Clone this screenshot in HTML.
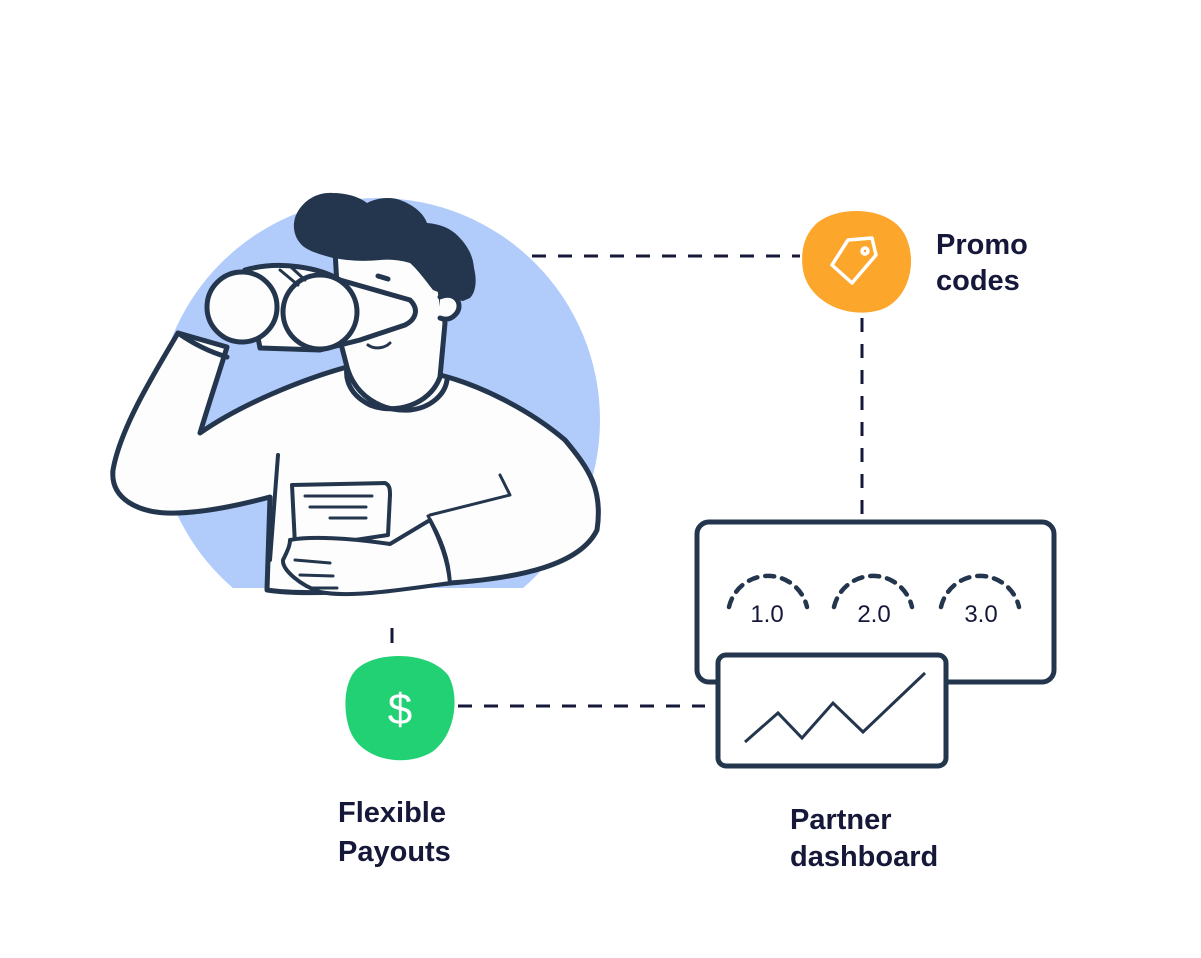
<!DOCTYPE html>
<html><head><meta charset="utf-8"><style>
html,body{margin:0;padding:0;background:#fff;}
svg{display:block}
text{font-family:"Liberation Sans",sans-serif;font-weight:bold;fill:#16183a;}
</style></head><body>
<svg width="1201" height="958" viewBox="0 0 1201 958" xmlns="http://www.w3.org/2000/svg">
<defs><clipPath id="c"><rect x="0" y="0" width="1201" height="588"/></clipPath></defs>
<circle cx="378" cy="420" r="222" fill="#b1cbfb" clip-path="url(#c)"/>
<g stroke="#16183a" stroke-width="3" stroke-dasharray="14 12" fill="none">
<line x1="532" y1="256" x2="800" y2="256"/>
<line x1="862" y1="318" x2="862" y2="520"/>
<line x1="458" y1="706" x2="705" y2="706"/>
</g>
<line x1="392" y1="628" x2="392" y2="643" stroke="#16183a" stroke-width="3"/>
<g stroke="#24364d" stroke-width="5" stroke-linejoin="round" stroke-linecap="round">
<path d="M178,333 C150,380 120,430 113,470 C110,500 140,512 167,513 C200,514 240,505 270,497 L267,590 C300,595 350,593 450,583 C520,578 580,565 597,530 C603,490 590,470 565,440 C530,410 480,385 440,375 L347,367 C300,380 240,405 200,433 C210,400 220,370 227,347 Z" fill="#fdfdfd"/>
<path d="M335,250 L410,255 L440,290 L445,323 L440,377 C430,405 395,415 370,405 C350,395 345,380 347,367 L340,340 Z" fill="#fdfdfd"/>
<path d="M347,367 C355,395 380,412 410,410 C430,408 445,395 447,380" fill="none"/>
<path d="M297,213 C305,198 320,192 333,193 C345,193 358,196 367,203 C378,197 392,197 400,200 C414,205 424,214 427,223 C440,224 450,228 458,236 C468,246 473,256 474,268 C477,280 476,292 470,298 L463,301 C455,300 445,297 438,292 L433,290 C425,280 418,270 410,263 C400,260 390,259 380,260 C360,262 345,260 333,258 C318,254 305,250 300,243 C293,235 292,222 297,213 Z" fill="#24364d" stroke="none"/>
<path d="M440,297 C455,290 465,305 455,315 C450,320 445,320 440,318" fill="#fdfdfd"/>
<path d="M378,276 L388,279" stroke-width="5"/>
<path d="M368,345 C375,350 385,348 390,343" fill="none" stroke-width="3"/>
<path d="M245,270 C280,260 320,268 340,280 L410,300 C420,310 415,320 405,325 L360,340 L320,350 L260,348 Z" fill="#fdfdfd"/>
<circle cx="242" cy="307" r="35" fill="#fdfdfd"/>
<circle cx="320" cy="312" r="37" fill="#fdfdfd"/>
<path d="M280,270 L298,285 M292,268 L305,280" fill="none" stroke-width="3"/>
<path d="M178,333 C195,345 210,352 227,357" fill="none"/>
<path d="M278,455 L270,560" fill="none" stroke-width="4"/>
<path d="M500,475 L510,495 L430,515" fill="none" stroke-width="3"/>
<path d="M428,516 C440,535 450,560 450,583" fill="none" stroke-width="3"/>
<path d="M292,485 L385,483 C390,485 390,490 390,495 L388,535 L355,540 L295,545 Z" fill="#fdfdfd" stroke-width="4"/>
<path d="M305,496 L372,496 M310,507 L366,507 M330,518 L366,518" stroke-width="3"/>
<path d="M290,540 C310,536 350,538 390,544 L430,520 C440,540 448,560 450,583 C400,590 350,598 320,592 C300,585 282,570 283,560 C288,550 290,545 290,540 Z" fill="#fdfdfd" stroke-width="4"/>
<path d="M295,560 L330,563 M300,575 L333,576 M310,588 L337,588" stroke-width="3"/>
</g>
<path d="M815,225 C835,205 890,205 905,235 C918,260 910,300 880,310 C845,320 808,300 803,270 C800,250 805,235 815,225 Z" fill="#fca62b"/>
<g stroke="#fff" stroke-width="3.5" fill="none" stroke-linejoin="round">
<path d="M848,240 L872,238 L876,255 L852,283 L832,265 Z"/>
<circle cx="865" cy="251" r="3"/>
</g>
<path d="M358,668 C380,650 430,652 448,675 C460,695 456,735 432,752 C405,768 365,760 352,735 C342,715 343,680 358,668 Z" fill="#22d173"/>
<text x="400" y="724" text-anchor="middle" style="font-size:44px;font-weight:normal;fill:#fff">$</text>
<g stroke="#24364d" stroke-width="5" fill="#fff">
<rect x="697" y="522" width="357" height="160" rx="12"/>
<rect x="718" y="655" width="228" height="111" rx="8"/>
</g>
<g stroke="#24364d" stroke-width="4.5" fill="none" stroke-dasharray="9 8" stroke-linecap="round">
<path d="M729,607 A40,40 0 0 1 807,607"/>
<path d="M834,607 A40,40 0 0 1 912,607"/>
<path d="M941,607 A40,40 0 0 1 1019,607"/>
</g>
<g style="font-size:24px" text-anchor="middle">
<text x="767" y="622" style="font-weight:normal" fill="#24364d">1.0</text>
<text x="874" y="622" style="font-weight:normal" fill="#24364d">2.0</text>
<text x="981" y="622" style="font-weight:normal" fill="#24364d">3.0</text>
</g>
<polyline points="745,742 778,713 802,738 833,703 863,732 925,673" fill="none" stroke="#24364d" stroke-width="3"/>
<g style="font-size:29px">
<text x="936" y="254">Promo</text>
<text x="936" y="290">codes</text>
<text x="338" y="822">Flexible</text>
<text x="338" y="861">Payouts</text>
<text x="790" y="829">Partner</text>
<text x="790" y="866">dashboard</text>
</g>
</svg>
</body></html>
